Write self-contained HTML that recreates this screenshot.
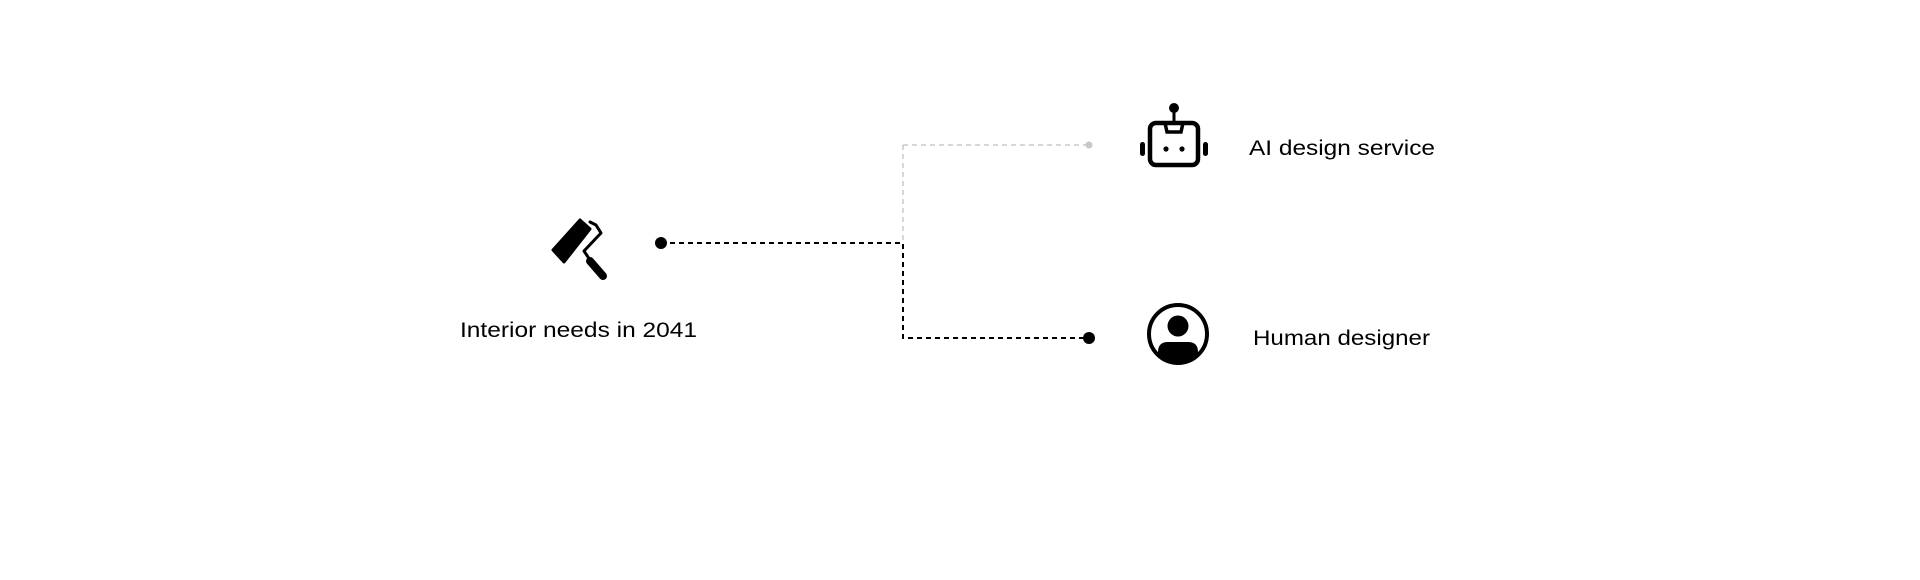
<!DOCTYPE html>
<html><head><meta charset="utf-8"><style>
html,body{margin:0;padding:0;background:#fff;}
svg{display:block;}
text{font-family:"Liberation Sans",sans-serif;fill:#000;}
</style></head><body>
<svg width="1920" height="580" viewBox="0 0 1920 580" xmlns="http://www.w3.org/2000/svg">
<rect width="1920" height="580" fill="#fff"/>
<!-- connectors -->
<path d="M903 145 V243" stroke="#c8c8c8" stroke-width="1.5" stroke-dasharray="5 4" fill="none"/>
<path d="M903 145 H1089" stroke="#c8c8c8" stroke-width="1.5" stroke-dasharray="5 4" fill="none"/>
<circle cx="1089" cy="145" r="3.5" fill="#c8c8c8"/>
<path d="M661 243 H903 V338 H1089" stroke="#000" stroke-width="2" stroke-dasharray="5 4" fill="none"/>
<circle cx="661" cy="243" r="6" fill="#000"/>
<circle cx="1089" cy="338" r="6" fill="#000"/>
<!-- roller icon -->
<polygon points="553,250 580,220 590,229 564,262" fill="#000" stroke="#000" stroke-width="3" stroke-linejoin="round"/>
<path d="M590 222 L596 225 L601 233 L584 251 L590 260" stroke="#000" stroke-width="3" fill="none" stroke-linejoin="round" stroke-linecap="round"/>
<line x1="590" y1="261" x2="603" y2="276" stroke="#000" stroke-width="8" stroke-linecap="round"/>
<text x="460" y="337" font-size="21" textLength="237" lengthAdjust="spacingAndGlyphs">Interior needs in 2041</text>
<!-- robot icon -->
<circle cx="1174" cy="108" r="5" fill="#000"/>
<line x1="1174" y1="110" x2="1174" y2="122" stroke="#000" stroke-width="3"/>
<rect x="1150" y="123" width="48" height="42" rx="6" fill="none" stroke="#000" stroke-width="4.5"/>
<path d="M1165 123 L1167 132 H1181 L1183 123" fill="none" stroke="#000" stroke-width="3.5"/>
<circle cx="1166" cy="149" r="2.6" fill="#000"/>
<circle cx="1182" cy="149" r="2.6" fill="#000"/>
<rect x="1140" y="142" width="5" height="14" rx="2.5" fill="#000"/>
<rect x="1203" y="142" width="5" height="14" rx="2.5" fill="#000"/>
<text x="1249" y="155" font-size="21" textLength="186" lengthAdjust="spacingAndGlyphs">AI design service</text>
<!-- human icon -->
<circle cx="1178" cy="334" r="29" fill="none" stroke="#000" stroke-width="4"/>
<circle cx="1178" cy="326" r="10.5" fill="#000"/>
<clipPath id="c"><circle cx="1178" cy="334" r="28"/></clipPath>
<path d="M1158 366 V352 Q1158 342 1168 342 H1188 Q1198 342 1198 352 V366 Z" fill="#000" clip-path="url(#c)"/>
<text x="1253" y="345" font-size="21" textLength="177" lengthAdjust="spacingAndGlyphs">Human designer</text>
</svg>
</body></html>
